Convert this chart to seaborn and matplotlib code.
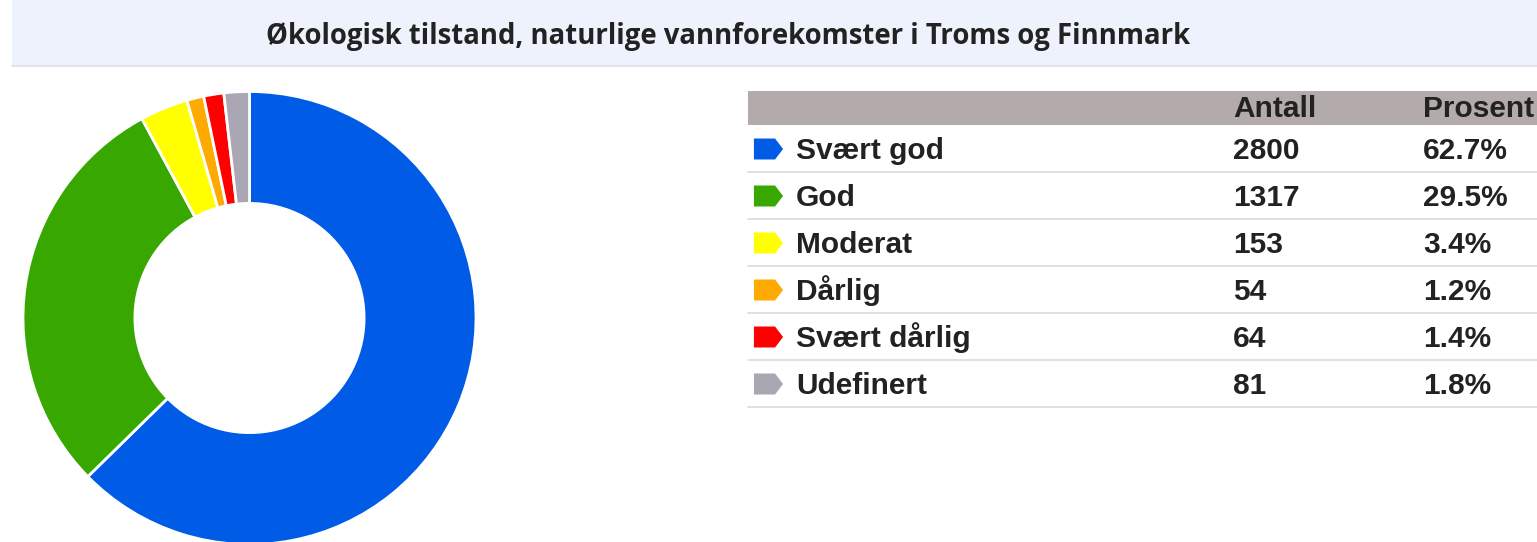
import numpy as np
import pandas as pd
import matplotlib
matplotlib.use("Agg")
import matplotlib.pyplot as plt
from matplotlib.path import Path
from matplotlib.patches import Rectangle
import seaborn as sns

# ---- data ----
title = "Økologisk tilstand, naturlige vannforekomster i Troms og Finnmark"
categories = ["Svært god", "God", "Moderat", "Dårlig", "Svært dårlig", "Udefinert"]
counts = [2800, 1317, 153, 54, 64, 81]
percent_labels = ["62.7%", "29.5%", "3.4%", "1.2%", "1.4%", "1.8%"]
colors = ["#005ce6", "#38a800", "#ffff00", "#ffaa00", "#ff0000", "#aaa6b3"]
col_headers = ["Antall", "Prosent"]

sns.set_theme(style="white")
plt.rcParams["font.family"] = ["Liberation Sans", "DejaVu Sans"]

W, H = 1537, 542
fig = plt.figure(figsize=(W / 100, H / 100), dpi=100)

# ---- donut ----
cx, cy, R = 249.5, 318, 226.5
ax = fig.add_axes([(cx - R) / W, (H - cy - R) / H, 2 * R / W, 2 * R / H])
ax.pie(counts, colors=colors, startangle=90, counterclock=False, radius=1,
       wedgeprops=dict(width=0.494, edgecolor="white", linewidth=2))
ax.set_xlim(-1, 1)
ax.set_ylim(-1, 1)
ax.set_aspect("equal")
ax.axis("off")

# ---- background overlay in pixel coordinates ----
ov = fig.add_axes([0, 0, 1, 1], zorder=-1)
ov.set_xlim(0, W)
ov.set_ylim(H, 0)
ov.axis("off")

# title bar
ov.add_patch(Rectangle((12, 0), W - 12, 66, facecolor="#eef2fc", edgecolor="none"))
ov.plot([12, W], [66, 66], color="#dcdfe8", lw=1.2)
ov.text(728.5, 44, title, ha="center", va="baseline", fontsize=19.8, fontweight="bold",
        color="#222222", family=["Open Sans", "DejaVu Sans"])

ov2 = fig.add_axes([0, 0, 1, 1])

# table header
tx0 = 748
ov2.add_patch(Rectangle((tx0, 91), W - tx0, 34, facecolor="#b3aaaa", edgecolor="none"))
col_x = [1233, 1423]
fs = 21.5
for x, h in zip(col_x, col_headers):
    ov2.text(x, 117, h, ha="left", va="baseline", fontsize=fs, fontweight="bold", color="#222222")

row0, dy = 149, 47
ys = [row0 + i * dy for i in range(len(categories))]
df = pd.DataFrame({"x": [768.5] * len(categories), "y": ys, "cat": categories})

tag = Path([(-1, -0.72), (0.45, -0.72), (1, 0), (0.45, 0.72), (-1, 0.72), (-1, -0.72)],
           [Path.MOVETO, Path.LINETO, Path.LINETO, Path.LINETO, Path.LINETO, Path.CLOSEPOLY])
sns.scatterplot(data=df, x="x", y="y", hue="cat", palette=colors, marker=tag, s=440,
                linewidth=0, legend=False, ax=ov2)
ov2.set_xlim(0, W)
ov2.set_ylim(H, 0)
ov2.axis("off")

for y, cat, n, p in zip(ys, categories, counts, percent_labels):
    ov2.text(796, y + 10, cat, ha="left", va="baseline", fontsize=fs, fontweight="bold", color="#222222")
    ov2.text(col_x[0], y + 10, str(n), ha="left", va="baseline", fontsize=fs, fontweight="bold", color="#222222")
    ov2.text(col_x[1], y + 10, p, ha="left", va="baseline", fontsize=fs, fontweight="bold", color="#222222")
    ov2.plot([tx0, W], [y + 23, y + 23], color="#dddddd", lw=1.3)

fig.savefig("out.png", dpi=100)
